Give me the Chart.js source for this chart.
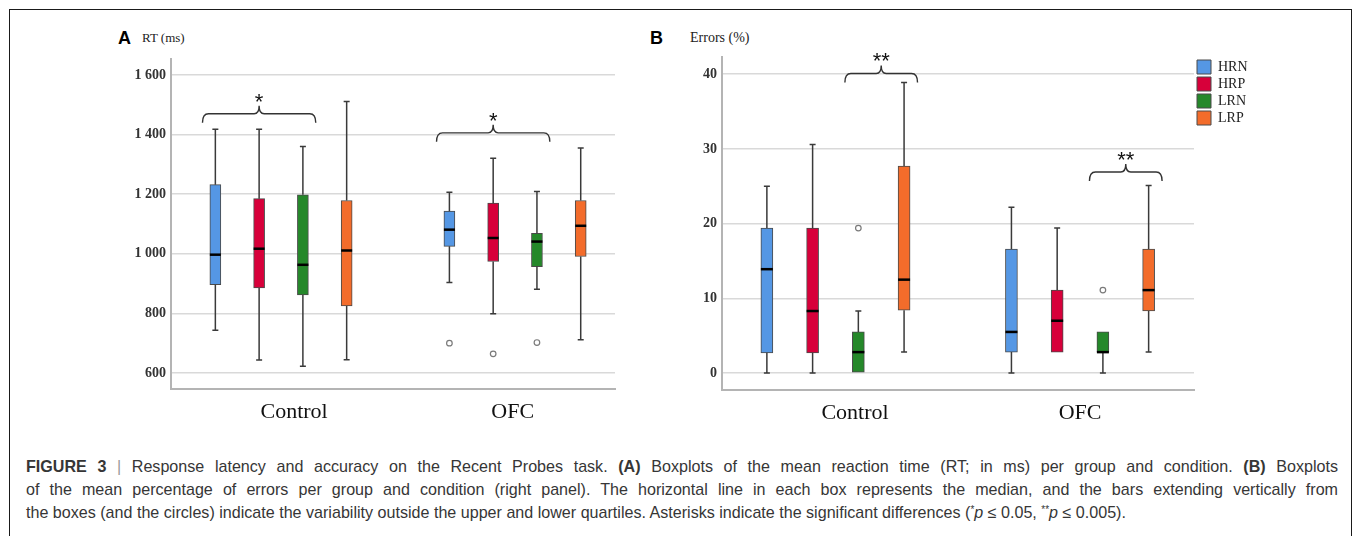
<!DOCTYPE html>
<html>
<head>
<meta charset="utf-8">
<script src="https://cdn.jsdelivr.net/npm/chart.js@4.4.1/dist/chart.umd.min.js"></script>
<style>
body { margin: 0; background: #fff; width: 1355px; height: 536px; overflow: hidden; position: relative; font-family: 'Liberation Sans', Arial, sans-serif; }
#frame { position: absolute; left: 9px; top: 9px; width: 1343px; height: 600px; border: 1px solid #1a1a1a; box-sizing: border-box; }
canvas { position: absolute; }
.panel { position: absolute; font: bold 18px 'Liberation Sans', Arial, sans-serif; color: #000; line-height: 18px; }
.ytitle { position: absolute; font: 13px 'Liberation Serif', serif; color: #222; line-height: 14px; }
#caption { position: absolute; left: 26px; top: 455px; width: 1312px; font-size: 16.1px; line-height: 23px; color: #363636; }
#caption .l { text-align: justify; text-align-last: justify; }
#caption .last { text-align: left; text-align-last: left; white-space: nowrap; }
#caption .bar { color: #999; }
#caption sup { font-size: 10px; line-height: 0; vertical-align: 5px; }
</style>
</head>
<body>
<div id="frame"></div>

<div class="panel" style="left:118px; top:29px;">A</div>
<div class="ytitle" style="left:142px; top:31px;">RT (ms)</div>
<canvas id="rtChart" width="530" height="415" style="left:100px; top:20px;"></canvas>

<div class="panel" style="left:650px; top:29px;">B</div>
<div class="ytitle" style="left:690px; top:31px; font-size:14px;">Errors (%)</div>
<canvas id="errChart" width="650" height="415" style="left:640px; top:20px;"></canvas>

<div id="caption">
  <div class="l"><b>FIGURE 3</b> <span class="bar">|</span> Response latency and accuracy on the Recent Probes task. <b>(A)</b> Boxplots of the mean reaction time (RT; in ms) per group and condition. <b>(B)</b> Boxplots</div>
  <div class="l">of the mean percentage of errors per group and condition (right panel). The horizontal line in each box represents the median, and the bars extending vertically from</div>
  <div class="l last">the boxes (and the circles) indicate the variability outside the upper and lower quartiles. Asterisks indicate the significant differences (<sup>*</sup><i>p</i> ≤ 0.05, <sup>**</sup><i>p</i> ≤ 0.005).</div>
</div>

<script>
// Groups and conditions
const groups = ['Control', 'OFC']
const conditions = ['HRN', 'HRP', 'LRN', 'LRP']
const colors = ['#5597e4', '#d7003a', '#25882a', '#f36c2b']

// Panel A: reaction time, [min, q1, median, q3, max] per group
const rtHRN = [[743, 896, 997, 1232, 1418], [904, 1025, 1081, 1143, 1207]]
const rtHRP = [[643, 885, 1017, 1185, 1418], [799, 974, 1053, 1170, 1321]]
const rtLRN = [[622, 862, 963, 1198, 1360], [881, 957, 1041, 1069, 1209]]
const rtLRP = [[644, 825, 1011, 1179, 1511], [711, 991, 1094, 1179, 1355]]
const rtOutHRN = [[], [700]]
const rtOutHRP = [[], [664]]
const rtOutLRN = [[], [702]]
const rtOutLRP = [[], []]
const rtTicks = [600, 800, 1000, 1200, 1400, 1600]

// Panel B: errors (%), [min, q1, median, q3, max] per group
const errHRN = [[0, 2.7, 13.9, 19.4, 25.0], [0, 2.8, 5.5, 16.6, 22.2]]
const errHRP = [[0, 2.7, 8.3, 19.4, 30.6], [2.8, 2.8, 7.0, 11.1, 19.4]]
const errLRN = [[0, 0, 2.8, 5.5, 8.3], [0, 2.8, 2.8, 5.5, 5.5]]
const errLRP = [[2.8, 8.4, 12.5, 27.7, 38.9], [2.8, 8.3, 11.1, 16.6, 25.1]]
const errOutHRN = [[], []]
const errOutHRP = [[], []]
const errOutLRN = [[19.4], [11.1]]
const errOutLRP = [[], []]
const errTicks = [0, 10, 20, 30, 40]

// Significance brackets: group, first / last condition index, height, stars
const rtSig = [
    { group: 0, first: 0, last: 2, y: 1470, stars: '*' },
    { group: 1, first: 0, last: 2, y: 1406, stars: '*' }
]
const errSig = [
    { group: 0, first: 2, last: 3, y: 40.1, stars: '**' },
    { group: 1, first: 2, last: 3, y: 26.9, stars: '**' }
]

// position of a box inside its group on the linear x axis
const slot = 0.187
function boxPos(group, cond) {
    return group + (cond - 1.5) * slot
}

// whiskers, medians and outliers on top of the floating bars
const boxWhiskers = {
    id: 'boxWhiskers',
    afterDatasetsDraw(chart) {
        const ctx = chart.ctx
        const ys = chart.scales.y
        chart.data.datasets.forEach((ds, i) => {
            const meta = chart.getDatasetMeta(i)
            meta.data.forEach((bar, j) => {
                const [lo, q1, med, q3, hi] = ds.stats[j]
                const x = bar.x
                const half = bar.width / 2
                ctx.save()
                ctx.strokeStyle = '#3a3a3a'
                ctx.lineWidth = 1.5
                ctx.beginPath()
                if (hi > q3) {
                    ctx.moveTo(x, ys.getPixelForValue(q3))
                    ctx.lineTo(x, ys.getPixelForValue(hi))
                    ctx.moveTo(x - 3, ys.getPixelForValue(hi))
                    ctx.lineTo(x + 3, ys.getPixelForValue(hi))
                }
                if (lo < q1) {
                    ctx.moveTo(x, ys.getPixelForValue(q1))
                    ctx.lineTo(x, ys.getPixelForValue(lo))
                    ctx.moveTo(x - 3, ys.getPixelForValue(lo))
                    ctx.lineTo(x + 3, ys.getPixelForValue(lo))
                }
                ctx.stroke()
                // median
                ctx.strokeStyle = '#000'
                ctx.lineWidth = 2.5
                ctx.beginPath()
                ctx.moveTo(x - half, ys.getPixelForValue(med))
                ctx.lineTo(x + half, ys.getPixelForValue(med))
                ctx.stroke()
                // outliers
                ctx.strokeStyle = '#7a7a7a'
                ctx.lineWidth = 1.2
                ctx.fillStyle = '#fff'
                ds.outliers[j].forEach(v => {
                    ctx.beginPath()
                    ctx.arc(x, ys.getPixelForValue(v), 2.8, 0, Math.PI * 2)
                    ctx.fill()
                    ctx.stroke()
                })
                ctx.restore()
            })
        })
    }
}

// curly brackets with asterisks
const sigBrackets = {
    id: 'sigBrackets',
    afterDraw(chart, args, opts) {
        const ctx = chart.ctx
        const xs = chart.scales.x
        const ys = chart.scales.y
        const pad = 0.055
        ;(opts.items || []).forEach(b => {
            const x1 = xs.getPixelForValue(boxPos(b.group, b.first) - pad)
            const x2 = xs.getPixelForValue(boxPos(b.group, b.last) + pad)
            const xc = (x1 + x2) / 2
            const yy = ys.getPixelForValue(b.y)
            ctx.save()
            ctx.strokeStyle = '#333'
            ctx.lineWidth = 1.4
            ctx.beginPath()
            ctx.moveTo(x1, yy + 9)
            ctx.quadraticCurveTo(x1, yy, x1 + 6, yy)
            ctx.lineTo(xc - 5, yy)
            ctx.quadraticCurveTo(xc, yy, xc, yy - 8)
            ctx.quadraticCurveTo(xc, yy, xc + 5, yy)
            ctx.lineTo(x2 - 6, yy)
            ctx.quadraticCurveTo(x2, yy, x2, yy + 9)
            ctx.stroke()
            ctx.fillStyle = '#111'
            ctx.font = '22px "Liberation Sans"'
            ctx.textAlign = 'center'
            ctx.textBaseline = 'alphabetic'
            ctx.fillText(b.stars, xc, yy - 5)
            ctx.restore()
        })
    }
}

// fixed legend width so the plot area keeps its size
const fixedLegend = {
    id: 'fixedLegend',
    beforeLayout(chart, args, opts) {
        const lg = chart.legend
        if (!lg || lg._fixed || !opts.width) return
        const fit = lg.fit
        lg.fit = function() {
            fit.call(this)
            this.width = opts.width
        }
        lg._fixed = true
    }
}

function thousands(v) {
    if (v < 1000) return String(v)
    return Math.floor(v / 1000) + ' ' + String(v % 1000).padStart(3, '0')
}

function makeBoxChart(id, cfg) {
    const datasets = conditions.map((name, i) => ({
        label: name,
        data: groups.map((g, j) => ({ x: boxPos(j, i), y: [cfg.stats[i][j][1], cfg.stats[i][j][3]] })),
        stats: cfg.stats[i],
        outliers: cfg.outliers[i],
        backgroundColor: colors[i],
        borderColor: '#4a4a4a',
        borderWidth: 1,
        borderSkipped: false,
        barThickness: cfg.barWidth,
        grouped: false
    }))

    return new Chart(document.getElementById(id), {
        type: 'bar',
        data: { datasets },
        options: {
            responsive: false,
            animation: false,
            layout: { padding: cfg.padding },
            plugins: {
                legend: cfg.legend || { display: false },
                tooltip: { enabled: false },
                sigBrackets: { items: cfg.sig },
                fixedLegend: { width: cfg.legendWidth }
            },
            scales: {
                x: {
                    type: 'linear',
                    min: cfg.xMin,
                    max: cfg.xMax,
                    offset: false,
                    grid: { display: false, drawTicks: false, offset: false },
                    border: { display: true, color: '#b4b4b4', width: 2 },
                    afterBuildTicks: s => { s.ticks = cfg.labelPos.map(v => ({ value: v })) },
                    afterFit: s => { s.height = cfg.xHeight },
                    ticks: {
                        autoSkip: false,
                        maxRotation: 0,
                        padding: 10,
                        color: '#111',
                        font: { family: 'Liberation Serif', size: 22 },
                        callback: (v, i) => groups[i]
                    }
                },
                y: {
                    min: cfg.yMin,
                    max: cfg.yMax,
                    grid: { color: '#d9d9d9', lineWidth: 1.5, drawTicks: false },
                    border: { display: true, color: '#b4b4b4', width: 2 },
                    afterBuildTicks: s => { s.ticks = cfg.ticks.map(v => ({ value: v })) },
                    afterFit: s => { s.width = cfg.yWidth },
                    ticks: {
                        padding: 5,
                        color: '#333',
                        font: { family: 'Liberation Serif', size: 14, weight: 'bold' },
                        callback: v => thousands(v)
                    }
                }
            }
        },
        plugins: [boxWhiskers, sigBrackets, fixedLegend]
    })
}

document.addEventListener('DOMContentLoaded', function() {
    makeBoxChart('rtChart', {
        stats: [rtHRN, rtHRP, rtLRN, rtLRP],
        outliers: [rtOutHRN, rtOutHRP, rtOutLRN, rtOutLRP],
        ticks: rtTicks,
        sig: rtSig,
        yMin: 546, yMax: 1654,
        xMin: -0.47, xMax: 1.427,
        labelPos: [0.056, 0.99],
        barWidth: 11,
        yWidth: 71,
        xHeight: 46,
        padding: { top: 39, right: 15, left: 0, bottom: 0 }
    })

    makeBoxChart('errChart', {
        stats: [errHRN, errHRP, errLRN, errLRP],
        outliers: [errOutHRN, errOutHRP, errOutLRN, errOutLRP],
        ticks: errTicks,
        sig: errSig,
        yMin: -2.27, yMax: 42.3,
        xMin: -0.464, xMax: 1.466,
        labelPos: [0.08, 1.0],
        barWidth: 12,
        yWidth: 82,
        xHeight: 45,
        padding: { top: 37, right: 0, left: 0, bottom: 0 },
        legendWidth: 96,
        legend: {
            display: true,
            position: 'right',
            align: 'start',
            labels: {
                boxWidth: 14,
                boxHeight: 14,
                padding: 3,
                color: '#222',
                font: { family: 'Liberation Serif', size: 14 }
            }
        }
    })
})
</script>
</body>
</html>
